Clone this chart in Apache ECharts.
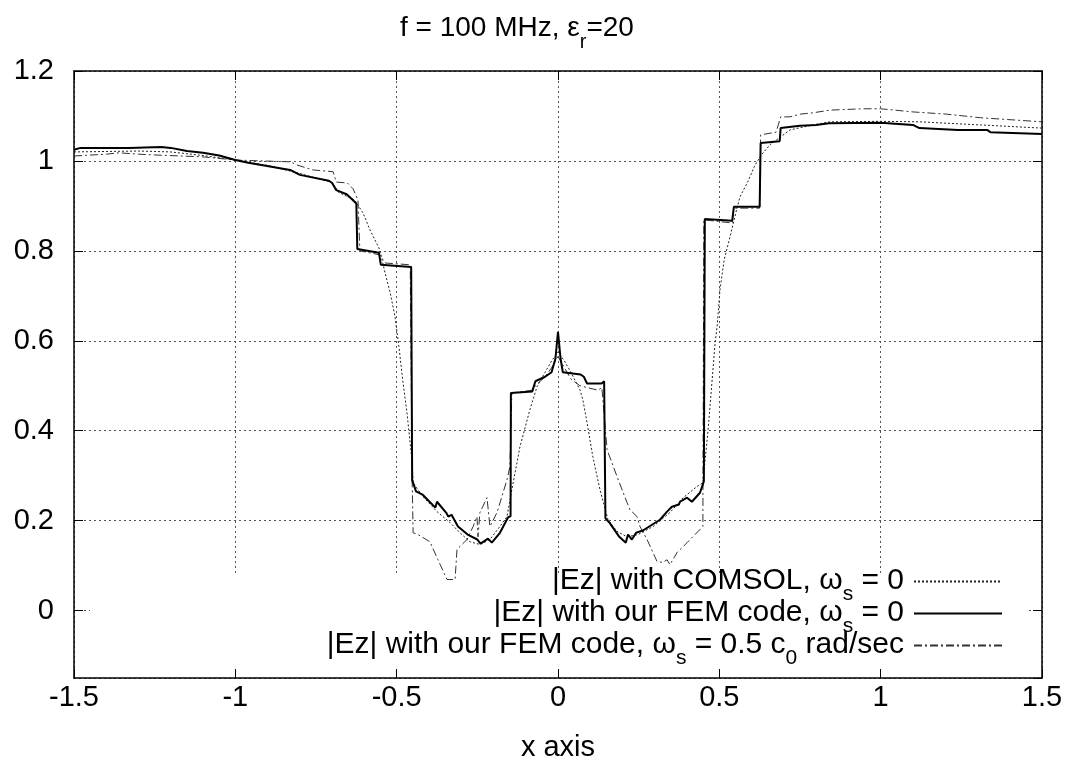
<!DOCTYPE html>
<html>
<head>
<meta charset="utf-8">
<script src="https://cdn.jsdelivr.net/npm/echarts@6/dist/echarts.min.js"></script>
<style>
html,body{margin:0;padding:0;background:#fff;}
#chart{width:1076px;height:778px;}
</style>
</head>
<body>
<div id="chart"></div>
<script>
// ---- data ----
const xTicks = [-1.5, -1, -0.5, 0, 0.5, 1, 1.5];
const yTicks = [0, 0.2, 0.4, 0.6, 0.8, 1, 1.2];

const seriesNames = [
  '|Ez| with COMSOL, ωs = 0',
  '|Ez| with our FEM code, ωs = 0',
  '|Ez| with our FEM code, ωs = 0.5 c0 rad/sec'
];

const comsolX = [-1.5,-1.3,-1.2,-1.1,-1.0,-0.9,-0.8,-0.7,-0.68,-0.63,-0.604,-0.583,-0.552,-0.536,-0.52,-0.505,-0.493,-0.481,-0.468,-0.452,-0.449,-0.418,-0.375,-0.335,-0.304,-0.273,-0.242,-0.211,-0.18,-0.158,-0.143,-0.118,-0.087,-0.065,-0.04,-0.02,0,0.02,0.04,0.068,0.077,0.09,0.108,0.13,0.155,0.183,0.214,0.248,0.295,0.347,0.388,0.431,0.449,0.465,0.487,0.493,0.502,0.515,0.533,0.555,0.564,0.589,0.61,0.63,0.657,0.719,0.79,0.843,1.0,1.12,1.31,1.5];
const comsolY = [1.02,1.022,1.02,1.012,1.002,0.99,0.972,0.952,0.93,0.913,0.884,0.847,0.802,0.751,0.707,0.653,0.587,0.511,0.44,0.329,0.284,0.253,0.22,0.196,0.173,0.153,0.147,0.158,0.187,0.209,0.269,0.364,0.447,0.498,0.53,0.555,0.575,0.555,0.53,0.491,0.469,0.418,0.342,0.269,0.202,0.176,0.164,0.169,0.187,0.218,0.251,0.276,0.284,0.4,0.596,0.631,0.713,0.78,0.831,0.896,0.92,0.955,0.99,1.013,1.036,1.069,1.08,1.087,1.088,1.087,1.08,1.073];

const fem0X = [-1.5,-1.48,-1.33,-1.23,-1.2,-1.15,-1.1,-1.05,-1.0,-0.96,-0.83,-0.8,-0.71,-0.7,-0.687,-0.655,-0.636,-0.625,-0.622,-0.555,-0.549,-0.455,-0.452,-0.44,-0.42,-0.38,-0.375,-0.345,-0.34,-0.33,-0.31,-0.28,-0.25,-0.24,-0.217,-0.205,-0.18,-0.155,-0.147,-0.146,-0.08,-0.07,-0.04,-0.02,-0.008,0,0.008,0.015,0.07,0.08,0.09,0.135,0.143,0.147,0.16,0.19,0.21,0.217,0.229,0.242,0.263,0.316,0.338,0.353,0.375,0.378,0.4,0.415,0.44,0.452,0.455,0.54,0.545,0.625,0.628,0.687,0.69,0.75,0.8,0.84,1.0,1.1,1.12,1.24,1.33,1.34,1.5];
const fem0Y = [1.025,1.029,1.029,1.031,1.029,1.022,1.018,1.012,1.002,0.996,0.98,0.969,0.956,0.951,0.935,0.926,0.913,0.905,0.804,0.796,0.769,0.764,0.29,0.265,0.258,0.229,0.242,0.216,0.209,0.213,0.187,0.169,0.158,0.149,0.16,0.151,0.173,0.207,0.21,0.484,0.487,0.51,0.52,0.53,0.56,0.62,0.56,0.53,0.525,0.52,0.505,0.505,0.51,0.205,0.195,0.164,0.151,0.169,0.158,0.173,0.178,0.202,0.22,0.231,0.236,0.242,0.251,0.242,0.262,0.287,0.871,0.867,0.898,0.898,1.04,1.044,1.073,1.078,1.08,1.084,1.085,1.08,1.073,1.069,1.069,1.064,1.06];

const fem05X = [-1.5,-1.4,-1.36,-1.3,-1.24,-1.1,-1.0,-0.917,-0.83,-0.809,-0.76,-0.697,-0.687,-0.653,-0.635,-0.62,-0.614,-0.552,-0.536,-0.458,-0.452,-0.449,-0.434,-0.397,-0.372,-0.344,-0.319,-0.313,-0.282,-0.263,-0.251,-0.248,-0.242,-0.22,-0.211,-0.189,-0.158,-0.149,-0.143,-0.08,-0.07,-0.04,-0.02,0,0.02,0.04,0.068,0.124,0.136,0.152,0.183,0.214,0.223,0.245,0.254,0.276,0.307,0.325,0.338,0.347,0.369,0.4,0.449,0.452,0.54,0.545,0.625,0.628,0.676,0.69,0.719,0.75,0.79,0.843,0.945,1.0,1.1,1.205,1.31,1.5];
const fem05Y = [1.011,1.015,1.018,1.015,1.013,1.009,1.002,1.0,0.998,0.991,0.98,0.976,0.953,0.951,0.938,0.913,0.8,0.791,0.773,0.769,0.29,0.173,0.169,0.153,0.113,0.069,0.069,0.136,0.158,0.187,0.209,0.164,0.218,0.251,0.187,0.218,0.291,0.32,0.484,0.49,0.5,0.52,0.54,0.565,0.54,0.515,0.5,0.49,0.496,0.358,0.298,0.24,0.224,0.209,0.187,0.158,0.109,0.107,0.113,0.102,0.129,0.151,0.187,0.869,0.862,0.895,0.895,1.058,1.064,1.098,1.098,1.104,1.107,1.113,1.116,1.116,1.109,1.104,1.096,1.087];

function pairs(xs, ys){ return xs.map((x,i)=>[x, ys[i]]); }

const FONT = 'Liberation Sans';
const chart = echarts.init(document.getElementById('chart'));

const legendRichStyles = {
  n: {fontFamily: FONT, fontSize: 30, fontWeight: 'normal', lineHeight: 31, verticalAlign: 'top', color: '#000'},
  s: {fontFamily: FONT, fontSize: 21, fontWeight: 'normal', lineHeight: 12, padding: [18,0,0,0], verticalAlign: 'top', color: '#000'}
};
const titleRichStyles = {
  n: {fontFamily: FONT, fontSize: 28, fontWeight: 'normal', lineHeight: 30, verticalAlign: 'top', color: '#000'},
  s: {fontFamily: FONT, fontSize: 20, fontWeight: 'normal', lineHeight: 12, padding: [18,0,0,0], verticalAlign: 'top', color: '#000'}
};

function legendRich(name){
  if (name === seriesNames[0]) return '{n||Ez| with COMSOL, ω}{s|s}{n| = 0}';
  if (name === seriesNames[1]) return '{n||Ez| with our FEM code, ω}{s|s}{n| = 0}';
  return '{n||Ez| with our FEM code, ω}{s|s}{n| = 0.5 c}{s|0}{n| rad/sec}';
}

const gridLine = {show: true, lineStyle: {color: '#555', width: 1, type: [2, 3]}};
const tickFont = {fontFamily: FONT, fontSize: 29, color: '#000'};

chart.setOption({
  animation: false,
  backgroundColor: '#fff',
  title: {
    text: '{n|f = 100 MHz, ε}{s|r}{n|=20}',
    left: 400, top: 14, padding: 0,
    textStyle: {fontWeight: 'normal', rich: titleRichStyles}
  },
  grid: {left: 74, right: 34, top: 71, bottom: 100, containLabel: false, outerBoundsMode: 'none'},
  graphic: [{
    type: 'rect', z: 1,
    shape: {x: 90, y: 573, width: 938, height: 96},
    style: {fill: '#fff'}, silent: true
  }],
  legend: {
    orient: 'vertical', align: 'right',
    right: 73, top: 566, padding: 0,
    itemWidth: 88, itemHeight: 14, itemGap: -7,
    data: seriesNames,
    formatter: legendRich,
    itemStyle: {opacity: 0},
    textStyle: {rich: legendRichStyles, padding: [0, 5, 0, 0]},
    backgroundColor: 'transparent'
  },
  xAxis: [{
    type: 'value', min: -1.5, max: 1.5, interval: 0.5,
    name: 'x axis', nameLocation: 'middle', nameGap: 55,
    nameTextStyle: tickFont,
    axisLine: {show: true, onZero: false, lineStyle: {color: '#000', width: 1.5}},
    axisTick: {show: true, inside: true, length: 9, lineStyle: {color: '#000', width: 1}},
    axisLabel: Object.assign({margin: 5}, tickFont),
    splitLine: gridLine
  }, {
    type: 'value', position: 'top', min: -1.5, max: 1.5, interval: 0.5,
    axisLine: {show: true, onZero: false, lineStyle: {color: '#000', width: 1.5}},
    axisTick: {show: true, inside: true, length: 9, lineStyle: {color: '#000', width: 1}},
    axisLabel: {show: false}, splitLine: {show: false}
  }],
  yAxis: [{
    type: 'value', min: -0.15, max: 1.2, splitNumber: 7,
    axisLine: {show: true, onZero: false, lineStyle: {color: '#000', width: 1.5}},
    axisTick: {show: true, inside: true, length: 9, lineStyle: {color: '#000', width: 1}},
    axisLabel: Object.assign({margin: 20, showMinLabel: false,
      formatter: v => (yTicks.some(t => Math.abs(t - v) < 1e-9) ? String(Math.round(v*10)/10) : '')}, tickFont),
    splitLine: gridLine
  }, {
    type: 'value', position: 'right', min: -0.15, max: 1.2, splitNumber: 7,
    axisLine: {show: true, onZero: false, lineStyle: {color: '#000', width: 1.5}},
    axisTick: {show: true, inside: true, length: 9, lineStyle: {color: '#000', width: 1}},
    axisLabel: {show: false}, splitLine: {show: false}
  }],
  series: [{
    name: seriesNames[0], type: 'line', symbol: 'none', showSymbol: false, z: 3,
    data: pairs(comsolX, comsolY),
    lineStyle: {color: '#222', width: 1, type: [2, 2]},
    itemStyle: {color: '#222'}
  }, {
    name: seriesNames[1], type: 'line', symbol: 'none', showSymbol: false, z: 4,
    data: pairs(fem0X, fem0Y),
    lineStyle: {color: '#000', width: 2, type: 'solid'},
    itemStyle: {color: '#000'}
  }, {
    name: seriesNames[2], type: 'line', symbol: 'none', showSymbol: false, z: 3,
    data: pairs(fem05X, fem05Y),
    lineStyle: {color: '#333', width: 1, type: [8, 3, 2, 3]},
    itemStyle: {color: '#333'}
  }]
});
</script>
</body>
</html>
